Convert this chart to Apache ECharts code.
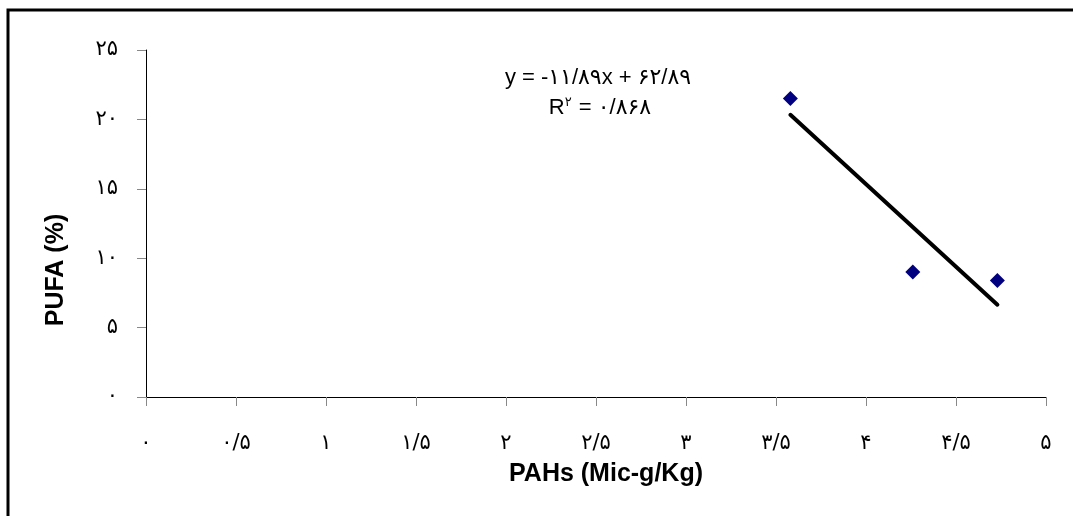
<!DOCTYPE html>
<html>
<head>
<meta charset="utf-8">
<script src="https://cdn.jsdelivr.net/npm/echarts@6/dist/echarts.min.js"></script>
<style>
html,body{margin:0;padding:0;background:#fff;}
#c{width:1073px;height:516px;}
</style>
</head>
<body>
<div id="c"></div>
<script>
// Data
const pahs = [3.58, 4.26, 4.73];
const pufa = [21.5, 9.0, 8.4];
const trendX = [3.58, 4.73];
const trendY = [20.33, 6.65];
const xTickLabels = ['۰','۰/۵','۱','۱/۵','۲','۲/۵','۳','۳/۵','۴','۴/۵','۵'];
const yTickLabels = ['۰','۵','۱۰','۱۵','۲۰','۲۵'];
const equationText = 'y = -۱۱/۸۹x + ۶۲/۸۹';
const r2Value = '۰/۸۶۸';
const xName = 'PAHs (Mic-g/Kg)';
const yName = 'PUFA (%)';

const FONT = '"Liberation Sans", Arial, "DejaVu Sans", sans-serif';
const chart = echarts.init(document.getElementById('c'), null, {renderer: 'canvas'});
chart.setOption({
  backgroundColor: '#fff',
  animation: false,
  grid: {left: 146, top: 50, right: 27, bottom: 119, containLabel: false},
  xAxis: {
    type: 'value', min: 0, max: 5, interval: 0.5,
    axisLine: {show: true, onZero: false, lineStyle: {color: '#000', width: 1}},
    axisTick: {show: true, length: 9, lineStyle: {color: '#888'}},
    splitLine: {show: false},
    axisLabel: {
      margin: 36, color: '#000', fontSize: 21, fontFamily: '"DejaVu Sans", sans-serif',
      formatter: v => xTickLabels[Math.round(v / 0.5)]
    }
  },
  yAxis: {
    type: 'value', min: 0, max: 25, interval: 5,
    axisLine: {show: true, onZero: false, lineStyle: {color: '#000', width: 1}},
    axisTick: {show: true, length: 9, lineStyle: {color: '#888'}},
    splitLine: {show: false},
    axisLabel: {
      margin: 28, color: '#000', fontSize: 21, fontFamily: '"DejaVu Sans", sans-serif',
      formatter: v => yTickLabels[Math.round(v / 5)]
    }
  },
  series: [
    {
      type: 'line', data: trendX.map((x, i) => [x, trendY[i]]),
      symbol: 'none', lineStyle: {color: '#000', width: 4, cap: 'round'}, z: 2
    },
    {
      type: 'scatter', data: pahs.map((x, i) => [x, pufa[i]]),
      symbol: 'diamond', symbolSize: 15, itemStyle: {color: '#000080', opacity: 1}, z: 3
    }
  ],
  graphic: [
    {type: 'rect', shape: {x: 8, y: 10, width: 1200, height: 600},
     style: {fill: null, stroke: '#000', lineWidth: 3}, z: 0, silent: true},
    {type: 'text', style: {text: equationText, x: 598, y: 78, align: 'center', verticalAlign: 'middle',
      font: '22px ' + FONT, fill: '#000'}},
    {type: 'text', style: {
      text: '{a|R}{s|۲}{a| = ' + r2Value + '}', x: 600, y: 108, align: 'center', verticalAlign: 'middle',
      rich: {
        a: {fontSize: 22, fontFamily: FONT, color: '#000'},
        s: {fontSize: 13, fontFamily: FONT, color: '#000', padding: [0, 1, 12, 0]}
      }
    }},
    {type: 'text', style: {text: xName, x: 606, y: 474, align: 'center', verticalAlign: 'middle',
      font: 'bold 25px ' + FONT, fill: '#000'}},
    {type: 'text', rotation: Math.PI / 2, x: 56, y: 270, style: {text: yName, x: 0, y: 0, align: 'center', verticalAlign: 'middle',
      font: 'bold 25px ' + FONT, fill: '#000'}}
  ]
});
</script>
</body>
</html>
